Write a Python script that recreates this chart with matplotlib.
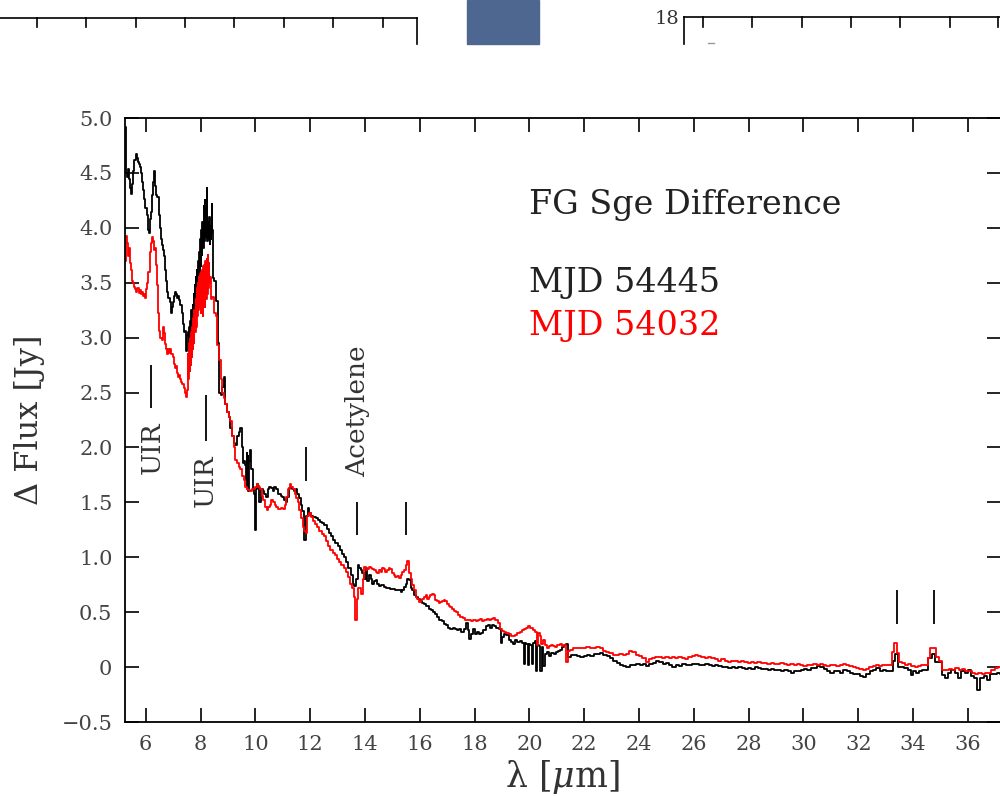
import numpy as np
import matplotlib
matplotlib.use("Agg")
import matplotlib.pyplot as plt
from matplotlib.lines import Line2D
from matplotlib.patches import Rectangle

plt.rcParams['font.family'] = ['DejaVu Serif']
plt.rcParams['mathtext.fontset'] = 'dejavuserif'

# --- MJD 54445 (black) ---
lam_54445 = [
    5.25, 5.29, 5.33, 5.37, 5.41, 5.45, 5.49, 5.53, 5.57, 5.61, 5.65, 5.69, 5.73, 5.77, 5.81, 5.85,
    5.89, 5.93, 5.97, 6.01, 6.05, 6.09, 6.13, 6.17, 6.21, 6.25, 6.29, 6.33, 6.37, 6.41, 6.45, 6.49,
    6.53, 6.57, 6.61, 6.65, 6.69, 6.73, 6.77, 6.81, 6.85, 6.89, 6.93, 6.97, 7.01, 7.05, 7.09, 7.13,
    7.17, 7.21, 7.25, 7.29, 7.33, 7.37, 7.41, 7.45, 7.49, 7.53,
    7.56, 7.58, 7.60, 7.62, 7.64, 7.66, 7.68, 7.70, 7.72, 7.74, 7.76, 7.78, 7.80, 7.82, 7.84, 7.86,
    7.88, 7.90, 7.92, 7.94, 7.96, 7.98, 8.00, 8.02, 8.04, 8.06, 8.08, 8.10, 8.12, 8.14, 8.16, 8.18,
    8.20, 8.22, 8.24, 8.26, 8.28, 8.30, 8.32, 8.34, 8.36, 8.38, 8.40, 8.42, 8.44,
    8.48, 8.54, 8.60, 8.66, 8.70, 8.76, 8.82, 8.88, 8.94, 9.00, 9.06, 9.12, 9.18, 9.24, 9.30, 9.36,
    9.42, 9.48, 9.52, 9.56, 9.60, 9.64, 9.68, 9.70, 9.72, 9.74, 9.76, 9.80, 9.84, 9.88, 9.92, 9.96,
    10.00, 10.04, 10.08, 10.12, 10.18, 10.24, 10.30, 10.36, 10.42, 10.48, 10.54, 10.60, 10.66, 10.72,
    10.78, 10.84, 10.90, 10.96, 11.02, 11.08, 11.14, 11.20, 11.26, 11.32, 11.38, 11.44, 11.50, 11.56,
    11.62, 11.68, 11.74, 11.78, 11.82, 11.88, 11.94, 12.00, 12.08, 12.16, 12.24, 12.32, 12.40, 12.48,
    12.56, 12.64, 12.72, 12.80, 12.88, 12.96, 13.04, 13.12, 13.20, 13.28, 13.36, 13.44, 13.52, 13.58,
    13.64, 13.70, 13.76, 13.82, 13.88, 13.94, 14.00, 14.06, 14.12, 14.18, 14.24, 14.30, 14.36, 14.42,
    14.48, 14.56, 14.64, 14.72, 14.80, 14.88, 14.96, 15.04, 15.12, 15.20, 15.28, 15.34, 15.40, 15.46,
    15.52, 15.58, 15.64, 15.70, 15.76, 15.82, 15.88, 15.96, 16.04, 16.12, 16.20, 16.28, 16.36, 16.44,
    16.52, 16.60, 16.68, 16.76, 16.84, 16.92, 17.00, 17.08, 17.16, 17.24, 17.32, 17.40, 17.48, 17.56,
    17.64, 17.72, 17.78, 17.84, 17.90, 17.96, 18.04, 18.12, 18.20, 18.28, 18.36, 18.44, 18.52, 18.60,
    18.68, 18.76, 18.84, 18.92, 18.98, 19.04, 19.12, 19.20, 19.28, 19.36, 19.44, 19.52, 19.60, 19.68,
    19.76, 19.82, 19.86, 19.92, 19.96, 20.00, 20.06, 20.10, 20.16, 20.22, 20.26, 20.32, 20.38, 20.42,
    20.48, 20.54, 20.60, 20.68, 20.76, 20.84, 20.92, 21.00, 21.08, 21.16, 21.24, 21.32, 21.38, 21.46,
    21.56, 21.68, 21.80, 21.92, 22.04, 22.16, 22.28, 22.40, 22.52, 22.64, 22.76, 22.88, 23.00, 23.12,
    23.24, 23.36, 23.48, 23.60, 23.72, 23.84, 23.96, 24.08, 24.20, 24.32, 24.44, 24.56, 24.68, 24.80,
    24.92, 25.04, 25.16, 25.28, 25.40, 25.52, 25.64, 25.76, 25.88, 26.00, 26.12, 26.24, 26.36, 26.48,
    26.60, 26.72, 26.84, 26.96, 27.08, 27.20, 27.32, 27.44, 27.56, 27.68, 27.80, 27.92, 28.04, 28.16,
    28.28, 28.40, 28.52, 28.64, 28.76, 28.88, 29.00, 29.12, 29.24, 29.36, 29.48, 29.60, 29.72, 29.84,
    29.96, 30.08, 30.20, 30.32, 30.44, 30.56, 30.68, 30.80, 30.92, 31.04, 31.16, 31.28, 31.40, 31.52,
    31.64, 31.76, 31.88, 32.00, 32.12, 32.24, 32.36, 32.48, 32.60, 32.72, 32.84, 32.96, 33.08, 33.20,
    33.30, 33.40, 33.50, 33.62, 33.74, 33.86, 33.96, 34.06, 34.16, 34.26, 34.36, 34.50, 34.62, 34.74,
    34.86, 34.98, 35.10, 35.22, 35.34, 35.46, 35.58, 35.70, 35.82, 35.94, 36.06, 36.18, 36.30, 36.40,
    36.52, 36.64, 36.76, 36.88, 37.00, 37.12, 37.24,
]
flux_54445 = [
    4.92, 4.50, 4.46, 4.54, 4.44, 4.36, 4.31, 4.40, 4.52, 4.62, 4.67, 4.64, 4.60, 4.58, 4.55, 4.50,
    4.42, 4.34, 4.26, 4.18, 4.12, 3.98, 3.95, 4.08, 4.14, 4.30, 4.42, 4.52, 4.38, 4.30, 4.28, 4.12,
    4.00, 3.90, 3.84, 3.80, 3.74, 3.62, 3.52, 3.42, 3.36, 3.32, 3.22, 3.28, 3.32, 3.38, 3.42, 3.40,
    3.36, 3.38, 3.34, 3.30, 3.22, 3.12, 3.05, 3.06, 2.88, 3.02,
    3.05, 2.88, 3.10, 2.95, 3.15, 3.00, 3.25, 3.05, 3.30, 3.12, 3.40, 3.20, 3.48, 3.28, 3.55, 3.35,
    3.62, 3.42, 3.70, 3.50, 3.78, 3.58, 3.90, 3.65, 3.98, 3.75, 4.05, 3.82, 4.20, 3.88, 4.25, 3.95,
    4.12, 3.92, 4.36, 3.88, 4.05, 3.90, 4.10, 3.85, 4.02, 3.90, 3.95, 4.22, 3.98,
    3.54, 3.52, 3.33, 2.95, 2.50, 2.48, 2.55, 2.64, 2.40, 2.32, 2.28, 2.18, 2.10, 2.04, 2.02, 2.10,
    2.14, 2.18, 2.00, 1.86, 1.88, 1.84, 1.70, 1.95, 1.62, 1.92, 1.60, 1.88, 1.98, 1.80, 1.62, 1.58,
    1.25, 1.62, 1.67, 1.65, 1.50, 1.62, 1.60, 1.58, 1.55, 1.62, 1.64, 1.63, 1.60, 1.64,
    1.62, 1.58, 1.58, 1.56, 1.55, 1.52, 1.50, 1.55, 1.63, 1.64, 1.62, 1.60, 1.62, 1.58,
    1.54, 1.48, 1.42, 1.16, 1.16, 1.38, 1.45, 1.40, 1.38, 1.37, 1.36, 1.34, 1.32, 1.31,
    1.29, 1.26, 1.22, 1.19, 1.16, 1.13, 1.10, 1.07, 1.03, 1.00, 0.96, 0.90, 0.84, 0.76,
    0.74, 0.80, 0.93, 0.90, 0.88, 0.86, 0.80, 0.90, 0.78, 0.84, 0.80, 0.76, 0.78, 0.79,
    0.76, 0.74, 0.75, 0.73, 0.72, 0.72, 0.71, 0.71, 0.70, 0.70, 0.70, 0.68, 0.70, 0.73,
    0.76, 0.80, 0.79, 0.72, 0.70, 0.66, 0.64, 0.62, 0.60, 0.58, 0.57, 0.56, 0.53, 0.52,
    0.50, 0.48, 0.46, 0.43, 0.42, 0.39, 0.38, 0.36, 0.35, 0.36, 0.35, 0.34, 0.35, 0.32,
    0.35, 0.40, 0.34, 0.26, 0.30, 0.35, 0.30, 0.32, 0.30, 0.31, 0.34, 0.37, 0.38, 0.36,
    0.38, 0.37, 0.36, 0.35, 0.22, 0.27, 0.30, 0.29, 0.25, 0.23, 0.21, 0.25, 0.23, 0.24,
    0.22, 0.03, 0.22, 0.21, 0.02, 0.21, 0.20, 0.03, 0.22, 0.24, -0.04, 0.20, 0.19, -0.04,
    0.18, 0.01, 0.12, 0.14, 0.10, 0.13, 0.12, 0.14, 0.15, 0.16, 0.18, 0.20, 0.21, 0.09,
    0.11, 0.11, 0.10, 0.09, 0.10, 0.11, 0.10, 0.12, 0.12, 0.13, 0.11, 0.10, 0.08, 0.06,
    0.04, 0.02, 0.01, 0.00, 0.02, 0.02, 0.03, 0.02, 0.03, 0.01, 0.03, 0.04, 0.06, 0.05,
    0.03, 0.04, 0.02, 0.00, 0.02, 0.01, 0.03, 0.02, 0.02, 0.03, 0.03, 0.02, 0.02, 0.03,
    0.02, 0.01, 0.02, 0.01, 0.00, 0.00, -0.01, 0.00, -0.01, 0.00, -0.01, -0.02, -0.01, -0.02,
    0.00, -0.01, -0.02, -0.02, -0.03, -0.02, -0.03, -0.03, -0.04, -0.03, -0.04, -0.05, -0.04, -0.04,
    -0.03, -0.02, -0.03, -0.01, -0.01, 0.01, 0.00, -0.02, -0.04, -0.05, -0.04, -0.04, -0.05, -0.03,
    -0.04, -0.05, -0.06, -0.06, -0.08, -0.09, -0.06, -0.04, -0.03, -0.01, -0.04, -0.03, -0.04, -0.04,
    0.06, 0.12, 0.00, 0.00, -0.01, -0.03, -0.07, -0.04, -0.05, -0.04, -0.03, -0.03, 0.08, 0.12,
    0.05, 0.05, -0.07, -0.10, -0.05, -0.03, -0.05, -0.10, -0.04, -0.05, -0.03, -0.08, -0.10, -0.21,
    -0.10, -0.08, -0.12, -0.06, -0.06, -0.05, -0.06,
]

# --- MJD 54032 (red) ---
lam_54032 = [
    5.25, 5.28, 5.32, 5.36, 5.40, 5.44, 5.48, 5.52, 5.56, 5.60, 5.64, 5.68, 5.72, 5.76, 5.80, 5.84,
    5.88, 5.92, 5.96, 6.00, 6.04, 6.08, 6.12, 6.16, 6.20, 6.24, 6.28, 6.32, 6.36, 6.40, 6.44, 6.48,
    6.52, 6.56, 6.60, 6.64, 6.68, 6.72, 6.76, 6.80, 6.84, 6.88, 6.92, 6.96, 7.00, 7.04, 7.08, 7.12,
    7.16, 7.20, 7.24, 7.28, 7.32, 7.36, 7.40, 7.44, 7.48, 7.52,
    7.55, 7.57, 7.59, 7.61, 7.63, 7.65, 7.67, 7.69, 7.71, 7.73, 7.75, 7.77, 7.79, 7.81, 7.83, 7.85,
    7.87, 7.89, 7.91, 7.93, 7.95, 7.97, 7.99, 8.01, 8.03, 8.05, 8.07, 8.09, 8.11, 8.13, 8.15, 8.17,
    8.19, 8.21, 8.23, 8.25, 8.27, 8.29, 8.31, 8.33, 8.35, 8.40, 8.46, 8.52, 8.58, 8.64, 8.70, 8.76,
    8.82, 8.88, 8.94, 9.00, 9.06, 9.12, 9.18, 9.24, 9.30, 9.36, 9.42, 9.48, 9.54, 9.60, 9.66, 9.72,
    9.78, 9.84, 9.90, 9.96, 10.02, 10.08, 10.14, 10.20, 10.26, 10.32, 10.38, 10.44, 10.50, 10.56,
    10.62, 10.68, 10.74, 10.80, 10.86, 10.92, 10.98, 11.04, 11.10, 11.16, 11.22, 11.28, 11.34, 11.40,
    11.46, 11.52, 11.58, 11.64, 11.70, 11.76, 11.82, 11.86, 11.92, 11.98, 12.06, 12.14, 12.22, 12.30,
    12.38, 12.46, 12.54, 12.62, 12.70, 12.78, 12.86, 12.94, 13.02, 13.10, 13.18, 13.26, 13.34, 13.42,
    13.50, 13.56, 13.62, 13.68, 13.72, 13.78, 13.84, 13.90, 13.96, 14.00, 14.06, 14.12, 14.18, 14.24,
    14.30, 14.36, 14.42, 14.48, 14.54, 14.60, 14.66, 14.72, 14.78, 14.84, 14.90, 14.96, 15.02, 15.08,
    15.14, 15.20, 15.28, 15.34, 15.40, 15.46, 15.52, 15.58, 15.64, 15.70, 15.76, 15.82, 15.88, 15.94,
    16.00, 16.06, 16.12, 16.18, 16.24, 16.30, 16.36, 16.42, 16.48, 16.54, 16.60, 16.66, 16.72, 16.78,
    16.84, 16.90, 16.96, 17.02, 17.08, 17.14, 17.20, 17.28, 17.36, 17.44, 17.52, 17.60, 17.68, 17.76,
    17.84, 17.92, 18.00, 18.08, 18.16, 18.24, 18.32, 18.40, 18.48, 18.56, 18.64, 18.72, 18.80, 18.88,
    18.96, 19.04, 19.12, 19.20, 19.28, 19.36, 19.44, 19.52, 19.60, 19.68, 19.76, 19.84, 19.92, 20.00,
    20.08, 20.16, 20.24, 20.28, 20.34, 20.40, 20.46, 20.52, 20.60, 20.66, 20.74, 20.82, 20.90, 20.98,
    21.06, 21.14, 21.22, 21.30, 21.38, 21.46, 21.54, 21.66, 21.78, 21.90, 22.02, 22.14, 22.26, 22.38,
    22.50, 22.62, 22.74, 22.86, 22.98, 23.10, 23.22, 23.34, 23.46, 23.58, 23.70, 23.82, 23.94, 24.06,
    24.18, 24.30, 24.42, 24.54, 24.66, 24.78, 24.90, 25.02, 25.14, 25.26, 25.38, 25.50, 25.62, 25.74,
    25.86, 25.98, 26.10, 26.22, 26.34, 26.46, 26.58, 26.70, 26.82, 26.94, 27.06, 27.18, 27.30, 27.42,
    27.54, 27.66, 27.78, 27.90, 28.02, 28.14, 28.26, 28.38, 28.50, 28.62, 28.74, 28.86, 28.98, 29.10,
    29.22, 29.34, 29.46, 29.58, 29.70, 29.82, 29.94, 30.06, 30.18, 30.30, 30.42, 30.54, 30.66, 30.78,
    30.90, 31.02, 31.14, 31.26, 31.38, 31.50, 31.62, 31.74, 31.86, 31.98, 32.10, 32.22, 32.34, 32.46,
    32.58, 32.70, 32.82, 32.94, 33.06, 33.18, 33.28, 33.36, 33.44, 33.52, 33.64, 33.76, 33.88, 34.00,
    34.12, 34.24, 34.36, 34.48, 34.58, 34.68, 34.78, 34.88, 35.00, 35.12, 35.24, 35.36, 35.48, 35.60,
    35.72, 35.84, 35.96, 36.08, 36.20, 36.32, 36.44, 36.56, 36.68, 36.80, 36.92, 37.04, 37.16, 37.24,
]
flux_54032 = [
    3.70, 3.93, 3.86, 3.74, 3.82, 3.68, 3.62, 3.52, 3.50, 3.46, 3.44, 3.42, 3.45, 3.41, 3.43, 3.40,
    3.42, 3.38, 3.40, 3.36, 3.44, 3.50, 3.60, 3.78, 3.86, 3.92, 3.88, 3.80, 3.82, 3.66, 3.48, 3.22,
    3.06, 3.00, 2.98, 3.10, 3.04, 2.94, 2.90, 2.85, 2.90, 2.86, 2.90, 2.85, 2.82, 2.76, 2.72, 2.74,
    2.68, 2.64, 2.66, 2.62, 2.60, 2.58, 2.54, 2.50, 2.46, 2.52,
    2.85, 2.62, 2.95, 2.70, 3.00, 2.75, 3.05, 2.82, 3.10, 2.90, 3.18, 2.95, 3.25, 3.05, 3.35, 3.10,
    3.45, 3.20, 3.50, 3.25, 3.55, 3.28, 3.58, 3.22, 3.60, 3.25, 3.62, 3.20, 3.65, 3.30, 3.66, 3.28,
    3.70, 3.35, 3.72, 3.40, 3.75, 3.45, 3.68, 3.50, 3.55, 3.35, 3.37, 3.22, 3.20, 2.93, 2.80, 2.62,
    2.50, 2.45, 2.40, 2.32, 2.28, 2.24, 2.10, 2.00, 1.89, 1.86, 1.82, 1.80, 1.74, 1.70, 1.64, 1.62,
    1.61, 1.60, 1.62, 1.62, 1.64, 1.67, 1.64, 1.62, 1.56, 1.52, 1.46, 1.43, 1.46, 1.48,
    1.52, 1.50, 1.48, 1.46, 1.44, 1.44, 1.45, 1.44, 1.48, 1.55, 1.62, 1.67, 1.64, 1.62,
    1.58, 1.54, 1.50, 1.43, 1.36, 1.28, 1.24, 1.22, 1.38, 1.40, 1.37, 1.33, 1.30, 1.28,
    1.24, 1.21, 1.19, 1.15, 1.10, 1.07, 1.04, 1.02, 0.98, 0.96, 0.93, 0.90, 0.87, 0.82,
    0.76, 0.72, 0.64, 0.43, 0.62, 0.72, 0.72, 0.67, 0.80, 0.91, 0.88, 0.89, 0.91, 0.90,
    0.89, 0.88, 0.87, 0.86, 0.88, 0.87, 0.90, 0.89, 0.87, 0.88, 0.90, 0.89, 0.86, 0.84,
    0.82, 0.83, 0.81, 0.84, 0.87, 0.88, 0.93, 0.97, 0.86, 0.80, 0.75, 0.70, 0.64, 0.62,
    0.59, 0.61, 0.62, 0.64, 0.66, 0.62, 0.64, 0.66, 0.67, 0.66, 0.61, 0.60, 0.58, 0.59,
    0.60, 0.61, 0.60, 0.57, 0.56, 0.55, 0.53, 0.51, 0.50, 0.47, 0.46, 0.45, 0.43, 0.43,
    0.43, 0.42, 0.43, 0.42, 0.43, 0.44, 0.42, 0.43, 0.44, 0.43, 0.44, 0.45, 0.43, 0.40,
    0.35, 0.33, 0.32, 0.31, 0.30, 0.28, 0.28, 0.29, 0.31, 0.32, 0.34, 0.35, 0.36, 0.37,
    0.36, 0.34, 0.32, 0.20, 0.31, 0.28, 0.21, 0.25, 0.20, 0.17, 0.19, 0.20, 0.19, 0.18,
    0.20, 0.21, 0.19, 0.20, 0.05, 0.15, 0.16, 0.17, 0.17, 0.17, 0.17, 0.18, 0.17, 0.17,
    0.18, 0.17, 0.15, 0.14, 0.13, 0.11, 0.11, 0.12, 0.11, 0.12, 0.15, 0.14, 0.11, 0.10,
    0.08, 0.05, 0.07, 0.08, 0.09, 0.09, 0.08, 0.09, 0.08, 0.09, 0.08, 0.09, 0.08, 0.07,
    0.09, 0.10, 0.11, 0.10, 0.09, 0.08, 0.09, 0.08, 0.07, 0.06, 0.07, 0.06, 0.05, 0.06,
    0.06, 0.05, 0.06, 0.05, 0.04, 0.05, 0.04, 0.05, 0.04, 0.04, 0.03, 0.04, 0.03, 0.03,
    0.04, 0.03, 0.02, 0.03, 0.02, 0.03, 0.02, 0.01, 0.02, 0.02, 0.03, 0.02, 0.03, 0.02,
    0.01, 0.02, 0.02, 0.01, 0.02, 0.03, 0.02, 0.01, 0.00, -0.01, -0.02, -0.03, -0.02, 0.00,
    0.01, 0.02, 0.01, 0.02, 0.02, 0.02, 0.14, 0.22, 0.13, 0.05, 0.04, 0.02, 0.03, 0.01,
    0.00, 0.01, 0.02, 0.02, 0.08, 0.17, 0.17, 0.09, 0.06, -0.03, -0.03, -0.02, -0.03, -0.01,
    -0.03, -0.02, -0.04, -0.04, -0.05, -0.06, -0.05, -0.06, -0.05, -0.05, -0.03, -0.01, 0.00, 0.00,
]

# feature markers (wavelength, bottom, top)
mark_lam = [6.2, 8.2, 11.85, 13.7, 15.5, 33.4, 34.75]
mark_lo = [2.36, 2.06, 1.69, 1.20, 1.20, 0.39, 0.39]
mark_hi = [2.75, 2.48, 2.00, 1.50, 1.50, 0.70, 0.70]

feat_labels = ['UIR', 'UIR', 'Acetylene']
feat_lam = [6.23, 8.17, 13.72]
feat_flux = [2.0, 1.70, 2.33]

W, H = 1000, 796
fig = plt.figure(figsize=(W / 100, H / 100), dpi=100)

def fx(x):
    return x / W

def fy(y):
    return 1 - y / H

# pieces of the neighbouring panels at the top of the screenshot
def seg(x0, y0, x1, y1, c='black', lw=1.2):
    fig.add_artist(Line2D([fx(x0), fx(x1)], [fy(y0), fy(y1)], color=c, lw=lw,
                          transform=fig.transFigure))

seg(0, 18, 417, 18)
seg(417, 18, 417, 44)
for tx in [37, 86, 136, 185, 234, 284, 333, 383]:
    seg(tx, 18, tx, 27)
fig.add_artist(Rectangle((fx(467), fy(44)), fx(72), 44 / H, color='#4e6791',
                         transform=fig.transFigure))
fig.text(fx(679), fy(19), '18', ha='right', va='center', fontsize=14, color='#333333')
seg(684, 17, 1000, 17)
seg(684, 17, 684, 44)
for tx in [703, 752, 802, 851, 900, 950, 998]:
    seg(tx, 17, tx, 27)
seg(708, 43, 714, 43, c='#999999', lw=1.0)

ax = fig.add_axes([125 / W, 1 - 722 / H, 875.5 / W, 604 / H])
ax.step(lam_54445, flux_54445, where='mid', color='black', lw=1.3)
ax.step(lam_54032, flux_54032, where='mid', color='#ff0000', lw=1.3)

ax.vlines(mark_lam, mark_lo, mark_hi, color='black', lw=1.3)
for lab, lx, ly in zip(feat_labels, feat_lam, feat_flux):
    ax.text(lx, ly, lab, rotation=90, ha='center', va='center', fontsize=19, color='#333333')

ax.text(20.0, 4.21, 'FG Sge Difference', fontsize=24, color='#222222', va='center')
ax.text(20.0, 3.50, 'MJD 54445', fontsize=24, color='#222222', va='center')
ax.text(20.0, 3.11, 'MJD 54032', fontsize=24, color='#ff0000', va='center')

ax.set_xlim(5.245, 37.19)
ax.set_ylim(-0.5, 5.0)
ax.set_xticks(np.arange(6, 37, 2))
yt = np.arange(-0.5, 5.01, 0.5)
ax.set_yticks(yt)
ax.set_yticklabels(['0' if abs(v) < 1e-9 else ('%.1f' % v).replace('-', '\u2212') for v in yt])
ax.tick_params(direction='in', length=10, width=1.2, top=True, right=True,
               labelsize=15, labelcolor='#444444', pad=9)
for s in ax.spines.values():
    s.set_linewidth(1.3)

ax.set_ylabel('Δ Flux [Jy]', fontsize=23, color='#333333', labelpad=12)
ax.set_xlabel('λ [$\\mu$m]', fontsize=25, color='#333333', labelpad=3)

fig.savefig('out.png', dpi=100)
